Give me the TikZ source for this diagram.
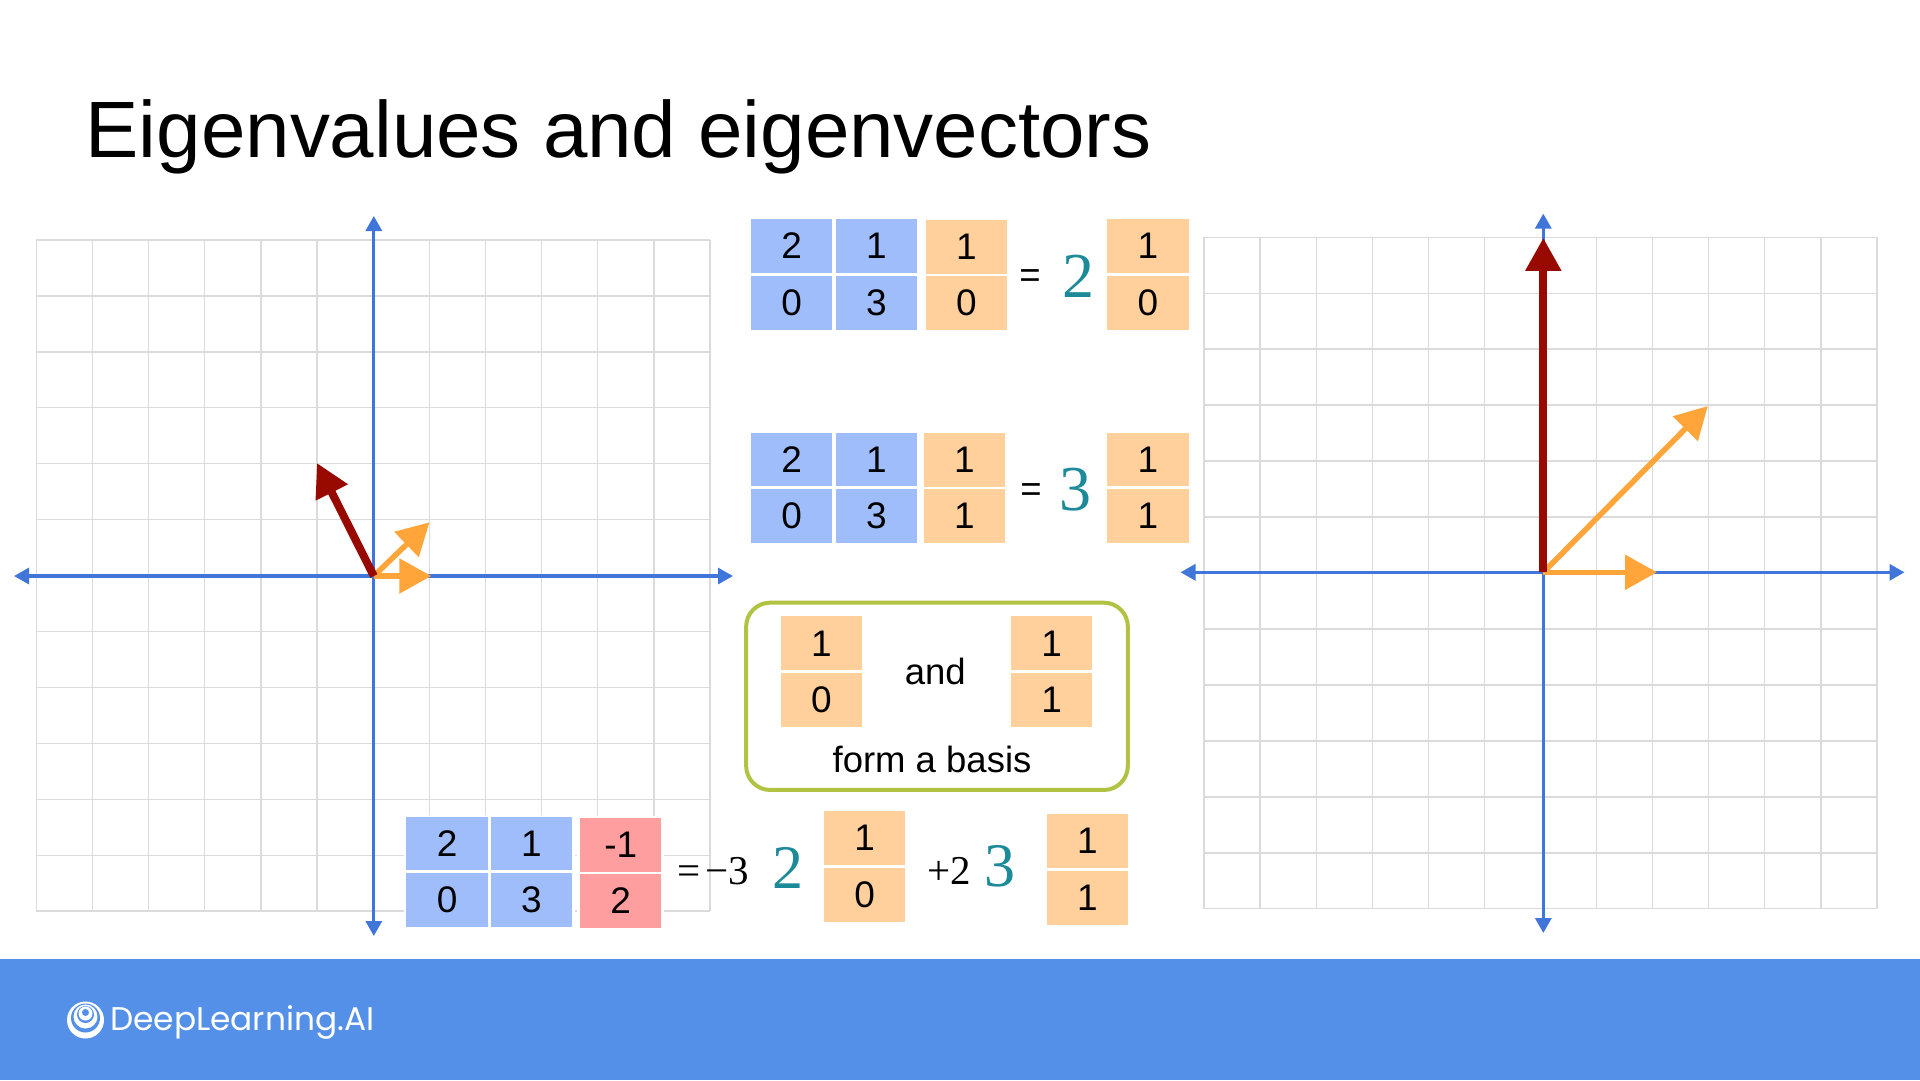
\documentclass[tikz,border=0pt]{standalone}
\usepackage{fontspec}
\setmainfont{Liberation Sans}
\newfontfamily\numfont{Liberation Serif}
\newfontfamily\logofont{Poppins}
\usetikzlibrary{arrows.meta}
\definecolor{cellblue}{RGB}{159,189,251}
\definecolor{cellorange}{RGB}{255,208,155}
\definecolor{cellpink}{RGB}{255,158,158}
\definecolor{axisblue}{RGB}{64,118,218}
\definecolor{vecred}{RGB}{152,10,0}
\definecolor{vecorange}{RGB}{255,165,58}
\definecolor{evteal}{RGB}{28,138,152}
\definecolor{basisgreen}{RGB}{178,194,66}
\definecolor{bannerblue}{RGB}{84,143,232}
\tikzset{
  gridline/.style={black!14,line width=1.3pt},
  axisline/.style={{Triangle[length=15pt,width=16pt]}-{Triangle[length=15pt,width=16pt]},axisblue,line width=3.2pt},
  redvec/.style={-{Triangle[length=33pt,width=34pt]},vecred,line width=8pt},
  orangevec/.style={-{Triangle[length=32pt,width=34pt]},vecorange,line width=5.5pt},
  cell/.style={draw=white,line width=2.5pt,inner sep=0pt,minimum width=84pt,minimum height=56.5pt,font=\fontsize{37}{40}\selectfont},
  bluecell/.style={cell,fill=cellblue},
  orangecell/.style={cell,fill=cellorange},
  pinkcell/.style={cell,fill=cellpink},
  bigev/.style={inner sep=0pt,text=evteal,font=\fontsize{64}{64}\numfont},
  coeff/.style={inner sep=0pt,font=\fontsize{41}{41}\numfont},
  plaintext/.style={inner sep=0pt,font=\fontsize{36.5}{40}\selectfont}
}
\begin{document}
\begin{tikzpicture}[x=1pt,y=-1pt]
\useasboundingbox (0,0) rectangle (1920,1080);
\fill[white] (0,0) rectangle (1920,1080);
\node[anchor=base west,inner sep=0pt,font=\fontsize{79.9}{80}\selectfont] (title) at (85.5,157) {Eigenvalues and eigenvectors};
% left plane
\begin{scope}[shift={(373.2,575.6)}]
\foreach \i in {-6,...,-1,1,2,...,6} \draw[gridline] (\i*56.15,-335.5) -- (\i*56.15,335.5);
\foreach \i in {-6,...,-1,1,2,...,6} \draw[gridline] (-336.9,\i*55.92) -- (336.9,\i*55.92);
\coordinate (oL) at (0.6,0.4);
\coordinate (westL) at (-359.2,0.4);
\coordinate (eastL) at (359.8,0.4);
\coordinate (northL) at (0.6,-359.6);
\coordinate (southL) at (0.6,360.4);
\coordinate (redL) at (-56.2,-112.6);
\coordinate (diagL) at (56.3,-53.3);
\coordinate (horizL) at (58.1,0.4);
\draw[axisline] (westL) -- (eastL);
\draw[axisline] (southL) -- (northL);
\draw[orangevec] (oL) -- (diagL);
\draw[orangevec] (oL) -- (horizL);
\draw[redvec] (oL) -- (redL);
\end{scope}
% right plane
\begin{scope}[shift={(1540.5,573)}]
\foreach \i in {-6,...,-1,1,2,...,6} \draw[gridline] (\i*56.08,-335.7) -- (\i*56.08,335.7);
\foreach \i in {-6,...,-1,1,2,...,6} \draw[gridline] (-336.5,\i*55.97) -- (336.5,\i*55.97);
\coordinate (oR) at (2.8,-0.7);
\coordinate (westR) at (-360,-0.7);
\coordinate (eastR) at (364,-0.7);
\coordinate (northR) at (2.8,-359.4);
\coordinate (southR) at (2.8,360);
\coordinate (redR) at (2.8,-335.2);
\coordinate (diagR) at (167.3,-167);
\coordinate (horizR) at (116.5,-0.7);
\draw[axisline] (westR) -- (eastR);
\draw[axisline] (southR) -- (northR);
\draw[orangevec] (oR) -- (diagR);
\draw[orangevec] (oR) -- (horizR);
\draw[redvec] (oR) -- (redR);
\end{scope}
% first equation
\node[bluecell] (aTL) at (791.7,246) {2};
\node[bluecell] (aTR) at (876.5,246) {1};
\node[bluecell] (aBL) at (791.7,302.7) {0};
\node[bluecell] (aBR) at (876.5,302.7) {3};
\node[orangecell] (uT) at (966.5,246.5) {1};
\node[orangecell] (uB) at (966.5,303) {0};
\node[plaintext] (eqA) at (1030,279) {=};
\node[bigev] (lamA) at (1078.7,276) {2};
\node[orangecell] (uTb) at (1148,246) {1};
\node[orangecell] (uBb) at (1148,302.7) {0};
% second equation
\node[bluecell] (bTL) at (791.7,460) {2};
\node[bluecell] (bTR) at (876.5,460) {1};
\node[bluecell] (bBL) at (791.7,515.7) {0};
\node[bluecell] (bBR) at (876.5,515.7) {3};
\node[orangecell] (vT) at (964.5,460) {1};
\node[orangecell] (vB) at (964.5,516) {1};
\node[plaintext] (eqB) at (1031,492.5) {=};
\node[bigev] (lamB) at (1075.3,489.3) {3};
\node[orangecell] (vTb) at (1148,460) {1};
\node[orangecell] (vBb) at (1148,515.7) {1};
% basis box
\node[draw=basisgreen,line width=4pt,rounded corners=24pt,minimum width=381.7pt,minimum height=187.3pt,inner sep=0pt] (basisbox) at (937,696.3) {};
\node[orangecell] (pT) at (821.4,643.3) {1};
\node[orangecell] (pB) at (821.4,700) {0};
\node[plaintext] (andword) at (935.3,671.5) {and};
\node[orangecell] (qT) at (1051.7,643.3) {1};
\node[orangecell] (qB) at (1051.7,700) {1};
\node[plaintext] (basisword) at (932,759.5) {form a basis};
% bottom equation
\node[bluecell] (cTL) at (447.2,844) {2};
\node[bluecell] (cTR) at (531.5,844) {1};
\node[bluecell] (cBL) at (447.2,899.7) {0};
\node[bluecell] (cBR) at (531.5,899.7) {3};
\node[pinkcell] (wT) at (620.7,845) {-1};
\node[pinkcell] (wB) at (620.7,901) {2};
\node[coeff] (minusthree) at (713.5,871) {=\kern5pt−3};
\node[bigev,font=\fontsize{62}{62}\numfont] (lamC) at (787.5,868.3) {2};
\node[orangecell] (rT) at (864.6,838) {1};
\node[orangecell] (rB) at (864.6,894.7) {0};
\node[coeff] (plustwo) at (949,871) {+2};
\node[bigev,font=\fontsize{62}{62}\numfont] (lamD) at (999.8,866.7) {3};
\node[orangecell] (sT) at (1087.5,841.2) {1};
\node[orangecell] (sB) at (1087.5,897.7) {1};
% banner
\fill[bannerblue] (0,959) rectangle (1920,1080);
\fill[white] (85.5,1020) circle (18.5pt);
\fill[bannerblue] (85.5,1018) circle (14.5pt);
\fill[white] (85.5,1016.5) circle (12pt);
\fill[bannerblue] (85.5,1014.5) circle (8.5pt);
\fill[white] (85.5,1013.5) circle (7pt);
\fill[bannerblue] (85.5,1012.5) circle (3.5pt);
\node[anchor=base west,inner sep=0pt,text=white,font=\fontsize{32.8}{33}\logofont] (brand) at (110,1030) {DeepLearning.AI};
\end{tikzpicture}
\end{document}
